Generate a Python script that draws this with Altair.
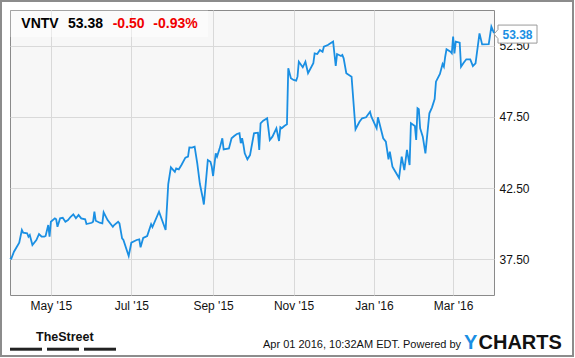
import altair as alt
import pandas as pd

# ---- data ----
dates = [
    "2015-03-31", "2015-04-01", "2015-04-03", "2015-04-07", "2015-04-09", "2015-04-10",
    "2015-04-13", "2015-04-14", "2015-04-15", "2015-04-16", "2015-04-17", "2015-04-20",
    "2015-04-22", "2015-04-24", "2015-04-26", "2015-04-27", "2015-04-29", "2015-04-30",
    "2015-05-01", "2015-05-04", "2015-05-05", "2015-05-06", "2015-05-08", "2015-05-10",
    "2015-05-12", "2015-05-14", "2015-05-16", "2015-05-18", "2015-05-20", "2015-05-22",
    "2015-05-24", "2015-05-27", "2015-05-28", "2015-06-01", "2015-06-02", "2015-06-03",
    "2015-06-04", "2015-06-07", "2015-06-09", "2015-06-10", "2015-06-13", "2015-06-17",
    "2015-06-18", "2015-06-21", "2015-06-22", "2015-06-24", "2015-06-25", "2015-06-29",
    "2015-07-01", "2015-07-05", "2015-07-07", "2015-07-08", "2015-07-10", "2015-07-13",
    "2015-07-16", "2015-07-17", "2015-07-22", "2015-07-27", "2015-07-29", "2015-07-31",
    "2015-08-03", "2015-08-04", "2015-08-06", "2015-08-08", "2015-08-11", "2015-08-13",
    "2015-08-14", "2015-08-16", "2015-08-18", "2015-08-20", "2015-08-22", "2015-08-24",
    "2015-08-25", "2015-08-28", "2015-08-30", "2015-08-31", "2015-09-01", "2015-09-03",
    "2015-09-04", "2015-09-06", "2015-09-08", "2015-09-09", "2015-09-13", "2015-09-15",
    "2015-09-17", "2015-09-19", "2015-09-21", "2015-09-22", "2015-09-23", "2015-09-24",
    "2015-09-25", "2015-09-27", "2015-09-29", "2015-10-02", "2015-10-05", "2015-10-06",
    "2015-10-07", "2015-10-09", "2015-10-12", "2015-10-14", "2015-10-16", "2015-10-19",
    "2015-10-21", "2015-10-22", "2015-10-23", "2015-10-25", "2015-10-27", "2015-10-28",
    "2015-10-30", "2015-11-01", "2015-11-03", "2015-11-04", "2015-11-05", "2015-11-08",
    "2015-11-10", "2015-11-12", "2015-11-16", "2015-11-17", "2015-11-19", "2015-11-21",
    "2015-11-23", "2015-11-24", "2015-11-27", "2015-11-29", "2015-12-01", "2015-12-03",
    "2015-12-04", "2015-12-07", "2015-12-08", "2015-12-09", "2015-12-11", "2015-12-15",
    "2015-12-18", "2015-12-21", "2015-12-23", "2015-12-26", "2015-12-29", "2015-12-30",
    "2016-01-03", "2016-01-04", "2016-01-08", "2016-01-10", "2016-01-12", "2016-01-13",
    "2016-01-15", "2016-01-16", "2016-01-20", "2016-01-22", "2016-01-24", "2016-01-26",
    "2016-01-28", "2016-01-29", "2016-02-01", "2016-02-02", "2016-02-03", "2016-02-04",
    "2016-02-05", "2016-02-07", "2016-02-09", "2016-02-10", "2016-02-12", "2016-02-14",
    "2016-02-16", "2016-02-17", "2016-02-20", "2016-02-22", "2016-02-23", "2016-02-24",
    "2016-02-25", "2016-02-28", "2016-02-29", "2016-03-01", "2016-03-02", "2016-03-03",
    "2016-03-06", "2016-03-07", "2016-03-09", "2016-03-11", "2016-03-14", "2016-03-16",
    "2016-03-18", "2016-03-21", "2016-03-23", "2016-03-28", "2016-03-30", "2016-04-01",
]
prices = [
    37.62, 37.55, 38.04, 38.67, 39.56, 39.37,
    39.33, 39.09, 39.21, 38.86, 38.51, 38.86,
    39.28, 39.09, 39.09, 39.14, 39.91, 39.09,
    40.14, 40.38, 40.31, 39.79, 40.38, 40.42,
    40.14, 40.26, 40.49, 40.66, 40.38, 40.61,
    40.38, 40.31, 39.98, 40.07, 40.14, 40.85,
    40.21, 40.07, 40.03, 40.80, 40.26, 39.79,
    39.91, 40.14, 40.03, 38.98, 38.86, 37.74,
    38.67, 38.86, 38.91, 38.35, 39.00, 39.14,
    39.97, 39.77, 40.85, 39.56, 42.79, 43.96,
    43.65, 43.89, 43.82, 44.12, 44.64, 44.71,
    45.36, 45.34, 45.41, 44.24, 42.79, 41.88,
    41.35, 44.47, 44.35, 44.00, 43.35, 44.94,
    44.71, 45.29, 46.00, 45.22, 45.29, 46.00,
    46.16, 46.30, 46.35, 45.65, 46.00, 45.53,
    44.94, 44.52, 44.82, 46.35, 46.39, 45.18,
    47.05, 47.23, 47.40, 45.88, 46.11, 46.70,
    45.81, 46.77, 46.70, 46.86, 46.98, 50.91,
    50.21, 50.09, 50.04, 50.32, 51.37, 50.98,
    51.37, 50.56, 51.26, 51.96, 51.91, 52.19,
    52.07, 52.42, 52.54, 52.66, 52.78, 51.07,
    51.91, 51.77, 51.84, 51.61, 50.56, 50.32,
    46.63, 47.16, 47.40, 47.47, 47.86, 47.51,
    46.70, 47.47, 46.00, 45.76, 44.52, 45.06,
    44.00, 43.84, 43.21, 44.71, 43.77, 45.18,
    44.12, 47.05, 46.86, 45.88, 48.10, 48.03,
    46.70, 46.11, 44.94, 45.88, 47.75, 48.17,
    48.75, 49.97, 50.51, 51.21, 51.02, 51.72,
    52.24, 52.07, 51.96, 53.13, 51.96, 52.78,
    52.71, 51.02, 51.30, 51.54, 51.54, 51.07,
    51.26, 53.36, 52.59, 52.61, 53.83, 53.38,
]

ticker = "VNTV"
last_price = "53.38"
change = "-0.50"
change_pct = "-0.93%"
y_ticks = [37.5, 42.5, 47.5, 52.5]
x_ticks = [(2015, 5), (2015, 7), (2015, 9), (2015, 11), (2016, 1), (2016, 3)]
x_domain = [(2015, 3, 31), (2016, 4, 1)]
footer_brand = "TheStreet"
footer_text = "Apr 01 2016, 10:32AM EDT. Powered by"
logo_y = "Y"
logo_rest = "CHARTS"

# ---- build ----
df = pd.DataFrame({"date": pd.to_datetime(dates), "price": prices})
last_df = df.iloc[[-1]]
one = pd.DataFrame({"k": [0]})

FONT = "Liberation Sans"
BLUE = "#1a8fe3"
RED = "#f00000"

x_enc = alt.X(
    "date:T",
    scale=alt.Scale(domain=[alt.DateTime(year=y, month=m, date=d) for y, m, d in x_domain]),
    axis=alt.Axis(
        values=[alt.DateTime(year=y, month=m, date=1) for y, m in x_ticks],
        format="%b '%y", title=None, grid=True, gridColor="#d9d9d9", gridWidth=1,
        domain=False, ticks=False, tickSize=0, labelPadding=5, labelFlush=False,
        labelFont=FONT, labelFontSize=12, labelColor="#111111",
    ),
)
y_enc = alt.Y(
    "price:Q",
    scale=alt.Scale(domain=[35, 55], nice=False, zero=False),
    axis=alt.Axis(
        orient="right", values=y_ticks, format=".2f", title=None, grid=True,
        gridColor="#d9d9d9", gridWidth=1, domain=False, ticks=False, tickSize=0,
        labelPadding=5, labelFont=FONT, labelFontSize=12, labelColor="#111111",
        labelBaseline="middle",
    ),
)

line = alt.Chart(df).mark_line(color=BLUE, strokeWidth=1.8).encode(x=x_enc, y=y_enc)

title_box = alt.Chart(one).mark_rect(color="white", opacity=0.45).encode(
    x=alt.value(0.5), x2=alt.value(198), y=alt.value(0.5), y2=alt.value(27)
)


def label(txt, x, y, size, color, weight="normal", font=FONT, align="left"):
    return alt.Chart(one).mark_text(
        font=font, fontSize=size, fontWeight=weight, color=color, align=align,
        baseline="alphabetic",
    ).encode(x=alt.value(x), y=alt.value(y), text=alt.value(txt))


t1 = label(ticker, 11.3, 18.3, 14, "#000000", "bold")
t2 = label(last_price, 58, 18.3, 14, "#000000", "bold")
t3 = label(change, 102.7, 18.3, 14, RED, "bold")
t4 = label(change_pct, 143.3, 18.3, 14, RED, "bold")

callout_path = ("M-1,0 L-0.814,-0.21 L-0.814,-0.419 L1,-0.419 L1,0.419 "
                "L-0.814,0.419 L-0.814,0.21 Z")
callout = alt.Chart(last_df).mark_point(
    shape=callout_path, size=1849, filled=True, fill="white", stroke="#9a9a9a",
    strokeWidth=1, opacity=1, yOffset=1,
).encode(x=alt.value(505.5), y=y_enc)
callout_text = alt.Chart(last_df).mark_text(
    font=FONT, fontSize=12, fontWeight="bold", color=BLUE, align="center",
    baseline="middle", dy=1.5,
).encode(x=alt.value(507.5), y=y_enc, text=alt.Text("price:Q", format=".2f"))

frame = alt.Chart(one).mark_rect(fillOpacity=0, stroke="#8c8c8c", strokeWidth=2).encode(
    x=alt.value(-9), x2=alt.value(563), y=alt.value(-9), y2=alt.value(346)
)

brand = label(footer_brand, 26, 330.5, 12.5, "#111111", "bold")
bars = [
    alt.Chart(one).mark_rect(color="#222222").encode(
        x=alt.value(a), x2=alt.value(b), y=alt.value(337.7), y2=alt.value(340.7)
    )
    for a, b in [(0, 32), (37, 69), (74, 106)]
]
foot = label(footer_text, 253, 338.3, 11, "#111111")
logo1 = label(logo_y, 454, 339, 20, BLUE, "bold")
logo2 = label(logo_rest, 468.5, 339, 20, "#111111", "bold")

chart = alt.layer(
    line, title_box, t1, t2, t3, t4, callout, callout_text, frame, brand, *bars,
    foot, logo1, logo2,
).properties(
    width=484, height=285,
    padding={"left": 10, "top": 10, "right": 81, "bottom": 63},
    autosize="none", background="white",
).configure_view(fill="#f7f7f7", stroke="#8a8a8a", strokeWidth=1)

chart.save("out.html", embed_options={"renderer": "svg", "actions": False})
